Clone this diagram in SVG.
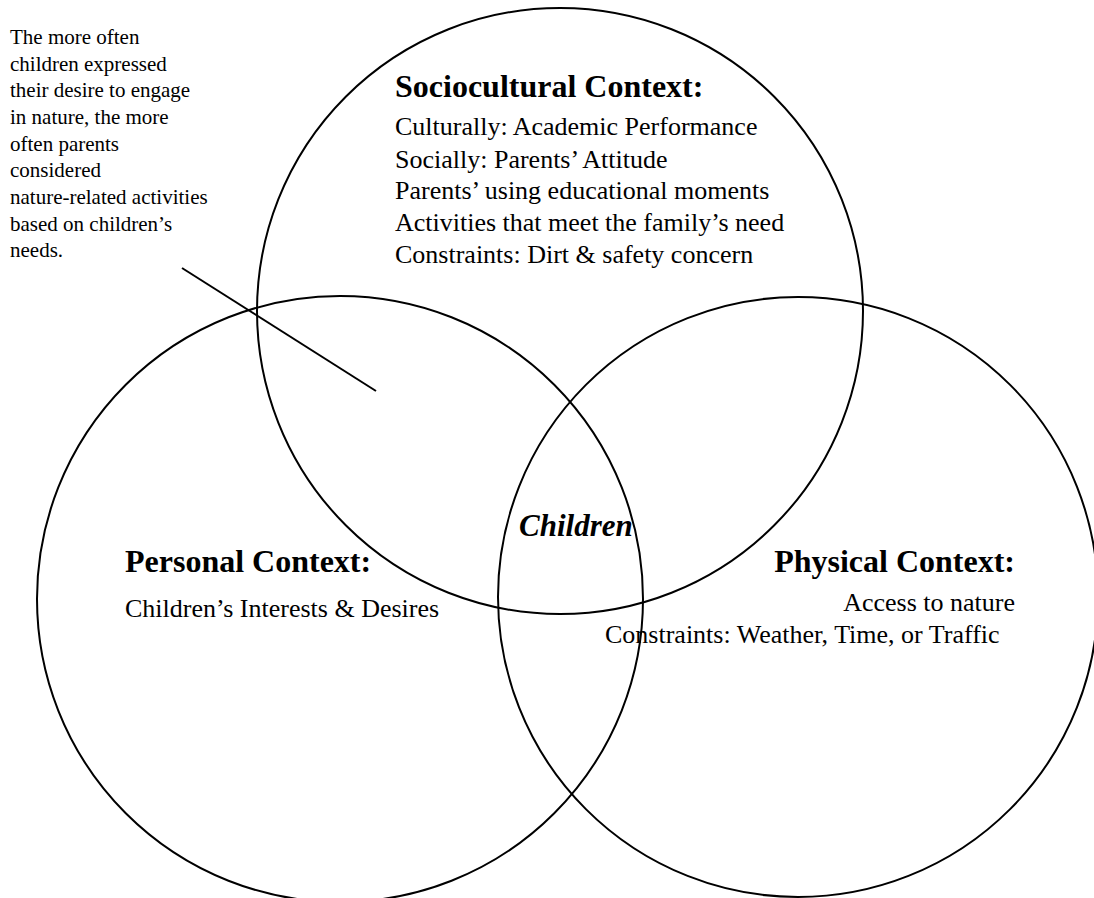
<svg xmlns="http://www.w3.org/2000/svg" width="1094" height="898" viewBox="0 0 1094 898">
<style>
.c{fill:none;stroke:#000;stroke-width:2}
.h{font-family:"Liberation Serif","Times New Roman",serif;font-weight:bold;font-size:32px;fill:#000}
.b{font-family:"Liberation Serif","Times New Roman",serif;font-size:26px;fill:#000}
.n{font-family:"Liberation Serif","Times New Roman",serif;font-size:21px;fill:#000}
.k{font-family:"Liberation Serif","Times New Roman",serif;font-weight:bold;font-style:italic;font-size:31px;fill:#000}
</style>
<rect width="1094" height="898" fill="#fff"/>
<g id="sociocultural">
<circle class="c" cx="560" cy="311" r="303"/>
<text class="h" x="395" y="97">Sociocultural Context:</text>
<text class="b" x="395" y="135">Culturally: Academic Performance</text>
<text class="b" x="395" y="168">Socially: Parents’ Attitude</text>
<text class="b" x="395" y="199">Parents’ using educational moments</text>
<text class="b" x="395" y="231">Activities that meet the family’s need</text>
<text class="b" x="395" y="263">Constraints: Dirt &amp; safety concern</text>
</g>
<g id="personal">
<circle class="c" cx="340" cy="599" r="303"/>
<text class="h" x="125" y="572">Personal Context:</text>
<text class="b" x="125" y="617">Children’s Interests &amp; Desires</text>
</g>
<g id="physical">
<circle class="c" cx="798" cy="597" r="300"/>
<text class="h" x="1015" y="572" text-anchor="end">Physical Context:</text>
<text class="b" x="1015" y="611" text-anchor="end">Access to nature</text>
<text class="b" x="605" y="643">Constraints: Weather, Time, or Traffic</text>
</g>
<g id="children">
<text class="k" x="519" y="536">Children</text>
</g>
<g id="note">
<text class="n" x="10" y="44">The more often</text>
<text class="n" x="10" y="71">children expressed</text>
<text class="n" x="10" y="97">their desire to engage</text>
<text class="n" x="10" y="124">in nature, the more</text>
<text class="n" x="10" y="151">often parents</text>
<text class="n" x="10" y="177">considered</text>
<text class="n" x="10" y="204">nature-related activities</text>
<text class="n" x="10" y="231">based on children’s</text>
<text class="n" x="10" y="257">needs.</text>
</g>
<g id="connectors">
<line x1="182" y1="268" x2="376" y2="391" stroke="#000" stroke-width="2"/>
</g>
</svg>
